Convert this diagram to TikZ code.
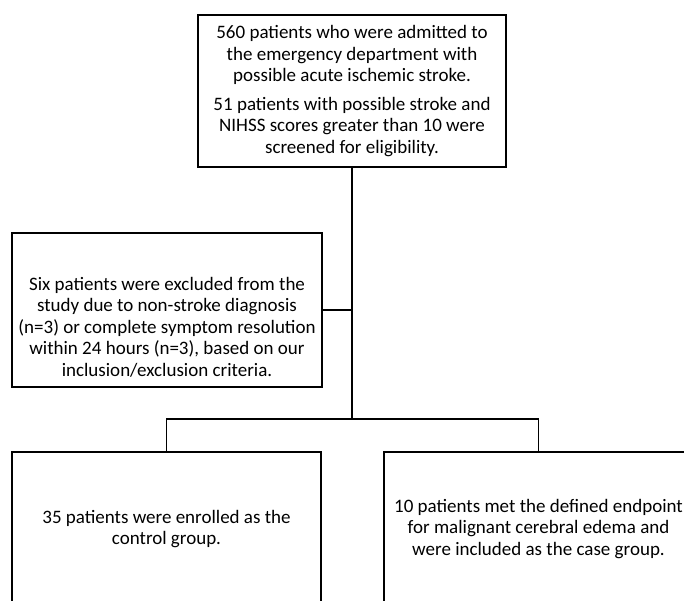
\documentclass[tikz,border=0pt]{standalone}
\usepackage{fontspec}
\setmainfont{Carlito}
\begin{document}
\begin{tikzpicture}[x=1pt,y=-1pt,
  box/.style={draw=black, line width=1.8pt, inner sep=0pt, align=center, font=\fontsize{19}{21.5}\selectfont},
  txt/.style={inner sep=0pt, align=center, font=\fontsize{19}{21.5}\selectfont},
  link/.style={line width=1.8pt}]
\useasboundingbox (0,0) rectangle (684,600);
\clip (0,0) rectangle (684,600);
\node[box, minimum width=308pt, minimum height=152pt] (screen) at (352,91)
  {560 patients who were admitted to\\the emergency department with\\possible acute ischemic stroke.\\[7pt]51 patients with possible stroke and\\NIHSS scores greater than 10 were\\screened for eligibility.};
\node[box, minimum width=310pt, minimum height=154pt] (excl) at (167,310) {};
\node[txt] (excltext) at (167,327)
  {Six patients were excluded from the\\study due to non-stroke diagnosis\\(n=3) or complete symptom resolution\\within 24 hours (n=3), based on our\\inclusion/exclusion criteria.};
\coordinate (split) at (352,419);
\node[box, minimum width=309pt, minimum height=154pt] (control) at (166.5,529)
  {35 patients were enrolled as the\\control group.};
\node[box, minimum width=309pt, minimum height=154pt] (case) at (538.5,529)
  {10 patients met the defined endpoint\\for malignant cerebral edema and\\were included as the case group.};
\draw[link] (screen.south) -- (split);
\draw[link] (excl.east) -- (excl.east -| split);
\draw[link] (control.north) |- (split) -| (case.north);
\end{tikzpicture}
\end{document}
